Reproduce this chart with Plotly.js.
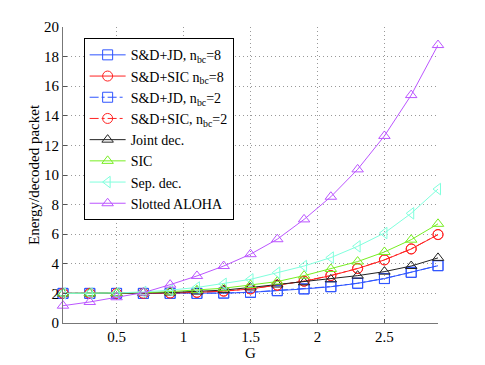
<!DOCTYPE html>
<html>
<head>
<meta charset="utf-8">
<script src="https://cdn.plot.ly/plotly-3.0.1.min.js"></script>
<style>
  html, body { margin: 0; padding: 0; background: #fff; }
  #chart { width: 485px; height: 365px; }
</style>
</head>
<body>
<div id="chart"></div>
<script>
// offered load G
var G = [0.1, 0.3, 0.5, 0.7, 0.9, 1.1, 1.3, 1.5, 1.7, 1.9, 2.1, 2.3, 2.5, 2.7, 2.9];

// energy per decoded packet
var sdJd8   = [2.0, 2.0, 2.0, 2.0, 2.0, 2.0, 2.02, 2.07, 2.18, 2.3, 2.45, 2.68, 3.0, 3.42, 3.87];
var sdSic8  = [2.0, 2.0, 2.0, 2.0, 2.02, 2.07, 2.15, 2.3, 2.55, 2.82, 3.2, 3.68, 4.26, 5.0, 5.97];
var sdJd2   = [2.0, 2.0, 2.0, 2.0, 2.0, 2.0, 2.02, 2.08, 2.19, 2.31, 2.46, 2.69, 3.01, 3.43, 3.88];
var sdSic2  = [2.0, 2.0, 2.0, 2.0, 2.02, 2.07, 2.16, 2.31, 2.56, 2.83, 3.21, 3.69, 4.27, 5.01, 5.98];
var jointDec = [2.0, 2.0, 2.0, 2.02, 2.06, 2.12, 2.22, 2.4, 2.6, 2.75, 2.95, 3.2, 3.47, 3.85, 4.4];
var sic     = [2.0, 2.0, 2.01, 2.05, 2.12, 2.22, 2.35, 2.57, 2.8, 3.2, 3.65, 4.15, 4.8, 5.63, 6.7];
var sepDec  = [2.0, 2.0, 2.03, 2.1, 2.22, 2.4, 2.65, 2.95, 3.4, 3.85, 4.42, 5.18, 6.08, 7.41, 9.05];
var aloha   = [1.17, 1.42, 1.74, 2.05, 2.59, 3.18, 3.85, 4.65, 5.66, 7.0, 8.53, 10.38, 12.64, 15.4, 18.78];

var names = [
    'S&amp;D+JD, n<sub>bc</sub>=8',
    'S&amp;D+SIC n<sub>bc</sub>=8',
    'S&amp;D+JD, n<sub>bc</sub>=2',
    'S&amp;D+SIC, n<sub>bc</sub>=2',
    'Joint dec.',
    'SIC',
    'Sep. dec.',
    'Slotted ALOHA'
];

function curve(y, name, color, symbol, dash) {
    return {
        x: G,
        y: y,
        name: name,
        type: 'scatter',
        mode: 'lines+markers',
        cliponaxis: false,
        line: {color: color, width: 1, dash: dash || 'solid'},
        marker: {symbol: symbol, size: 10, color: color, line: {color: color, width: 1}}
    };
}

var blue = '#2f55ff', red = '#ff2222', black = '#222222',
    green = '#77ee22', cyan = '#80ffdd', purple = '#bb55ff';

var data = [
    curve(sdJd8, names[0], blue, 'square-open'),
    curve(sdSic8, names[1], red, 'circle-open'),
    curve(sdJd2, names[2], blue, 'square-open', 'dashdot'),
    curve(sdSic2, names[3], red, 'circle-open', 'dashdot'),
    curve(jointDec, names[4], black, 'triangle-up-open'),
    curve(sic, names[5], green, 'triangle-up-open'),
    curve(sepDec, names[6], cyan, 'triangle-left-open'),
    curve(aloha, names[7], purple, 'triangle-up-open')
];

var serif = 'Times New Roman';

var layout = {
    width: 485,
    height: 365,
    margin: {l: 63, r: 47, t: 27, b: 42},
    paper_bgcolor: '#fff',
    plot_bgcolor: '#fff',
    font: {family: serif, size: 15, color: '#000'},
    showlegend: true,
    legend: {
        x: 0.055, y: 0.962, xanchor: 'left', yanchor: 'top',
        bgcolor: '#fff', bordercolor: '#000', borderwidth: 1,
        font: {family: serif, size: 14}, tracegroupgap: 0, itemwidth: 36
    },
    xaxis: {
        title: {text: 'G', standoff: 0, font: {family: serif, size: 15}},
        range: [0.1, 2.9],
        tickvals: [0.5, 1, 1.5, 2, 2.5],
        ticktext: ['0.5', '1', '1.5', '2', '2.5'],
        tickfont: {family: serif, size: 15},
        ticks: 'inside', ticklen: 4, tickcolor: '#555',
        showline: true, linecolor: '#777', linewidth: 1,
        showgrid: true, gridcolor: '#999999', griddash: '1px,3px', gridwidth: 1,
        zeroline: false, mirror: false
    },
    yaxis: {
        title: {text: 'Energy/decoded packet', standoff: 0, font: {family: serif, size: 15}},
        range: [0, 20],
        dtick: 2,
        tickfont: {family: serif, size: 15},
        ticks: 'inside', ticklen: 4, tickcolor: '#555',
        showline: true, linecolor: '#777', linewidth: 1,
        showgrid: true, gridcolor: '#999999', griddash: '1px,3px', gridwidth: 1,
        zeroline: false, mirror: false
    }
};

Plotly.newPlot('chart', data, layout, {displayModeBar: false, staticPlot: true});
</script>
</body>
</html>
